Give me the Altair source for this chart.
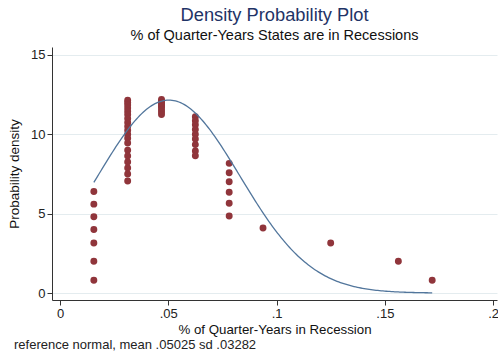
import altair as alt
import numpy as np
import pandas as pd

# Share of quarter-years in recession (x) and the plotted density position (y) per state
x_vals = [1/64] * 7 + [2/64] * 19 + [3/64] * 9 + [4/64] * 9 + [5/64] * 6 + [6/64, 8/64, 10/64, 11/64]
y_vals = (
    [6.4, 5.6, 4.8, 4.0, 3.15, 2.0, 0.8]
    + [12.15, 12.0, 11.85, 11.65, 11.45, 11.25, 11.0, 10.75, 10.5, 10.25, 10.0, 9.75,
       9.45, 9.0, 8.63, 8.25, 7.88, 7.5, 7.06]
    + [12.2, 12.1, 12.0, 11.9, 11.8, 11.7, 11.55, 11.4, 11.25]
    + [11.1, 10.85, 10.6, 10.3, 10.0, 9.7, 9.35, 8.95, 8.65]
    + [8.17, 7.58, 7.01, 6.35, 5.65, 4.85]
    + [4.1, 3.15, 2.0, 0.8]
)

# Reference normal distribution parameters
ref_mean = 0.05025
ref_sd = 0.03282

x_ticks = [0, 0.05, 0.1, 0.15, 0.2]
y_ticks = [0, 5, 10, 15]

FONT = "Liberation Sans"

points = pd.DataFrame({"x": x_vals, "y": y_vals})

grid_x = np.linspace(min(x_vals), max(x_vals), 200)
curve = pd.DataFrame({
    "x": grid_x,
    "y": np.exp(-0.5 * ((grid_x - ref_mean) / ref_sd) ** 2) / (ref_sd * np.sqrt(2 * np.pi)),
})

x_scale = alt.Scale(domain=[-0.0037, 0.2018], nice=False, zero=False)
y_scale = alt.Scale(domain=[-0.44, 15.5], nice=False, zero=False)

x_axis = alt.Axis(
    title="% of Quarter-Years in Recession",
    values=x_ticks,
    grid=False,
    labelExpr="datum.value == 0 ? '0' : replace(toString(datum.value), /^0/, '')",
    titleY=29,
    titleBaseline="middle",
)
y_axis = alt.Axis(
    title="Probability density",
    values=y_ticks,
    grid=True,
    gridColor="#e4ecef",
    labelAngle=0,
    titleX=-38,
    titleBaseline="middle",
    titleFontSize=13.5,
)

line = alt.Chart(curve).mark_line(color="#52769c", strokeWidth=1.3).encode(
    x=alt.X("x:Q", scale=x_scale, axis=x_axis),
    y=alt.Y("y:Q", scale=y_scale, axis=y_axis),
)

dots = alt.Chart(points).mark_circle(size=48, opacity=1, color="#90353b").encode(
    x=alt.X("x:Q", scale=x_scale),
    y=alt.Y("y:Q", scale=y_scale),
)

note = alt.Chart(pd.DataFrame({"t": ["reference normal, mean .05025 sd .03282"]})).mark_text(
    align="left", baseline="middle", fontSize=13, font=FONT, color="#222222"
).encode(text="t:N", x=alt.value(-38), y=alt.value(298))

chart = (
    alt.layer(dots, line, note)
    .properties(
        width=445,
        height=253,
        padding={"left": 52, "top": 47, "right": 1, "bottom": 53},
        autosize=alt.AutoSizeParams(type="none"),
        title=alt.TitleParams(
            text="Density Probability Plot",
            subtitle="% of Quarter-Years States are in Recessions",
            anchor="middle",
            fontSize=18.3,
            fontWeight="normal",
            color="#1f3366",
            font=FONT,
            subtitleFont=FONT,
            subtitleFontSize=14.5,
            subtitleColor="#111111",
            subtitlePadding=3,
            offset=4,
        ),
    )
    .configure_view(stroke=None)
    .configure_axis(
        labelFont=FONT,
        titleFont=FONT,
        labelFontSize=13,
        titleFontSize=13.3,
        titleFontWeight="normal",
        labelColor="#222222",
        titleColor="#111111",
        domainColor="#333333",
        tickColor="#333333",
        tickSize=5,
        labelPadding=2,
    )
)

chart.save("out.html", embed_options={"renderer": "svg", "actions": False})
